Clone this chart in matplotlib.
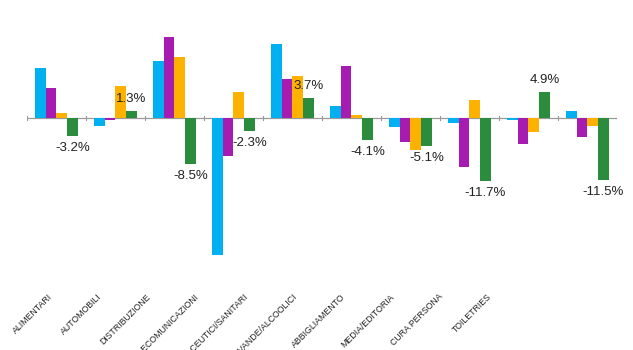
import matplotlib
matplotlib.use("Agg")
import matplotlib.pyplot as plt
import numpy as np

categories = ["ALIMENTARI", "AUTOMOBILI", "DISTRIBUZIONE", "TELECOMUNICAZIONI",
              "FARMACEUTICI/SANITARI", "BEVANDE/ALCOOLICI", "ABBIGLIAMENTO",
              "MEDIA/EDITORIA", "CURA PERSONA", "TOILETRIES"]
series_cyan = [9.4, -1.5, 10.7, -25.4, 13.8, 2.35, -1.7, -0.9, -0.4, 1.4]
series_purple = [5.7, -0.25, 15.1, -7.0, 7.3, 9.6, -4.4, -9.1, -4.7, -3.4]
series_orange = [0.9, 6.0, 11.4, 4.9, 7.8, 0.55, -5.9, 3.4, -2.5, -1.4]
series_green = [-3.2, 1.3, -8.5, -2.3, 3.7, -4.1, -5.1, -11.7, 4.9, -11.5]

colors = ["#00B0F0", "#A61CB0", "#FFB100", "#2A8C3C"]

W, H = 633, 350
fig = plt.figure(figsize=(W / 100, H / 100), dpi=100)
plt.rcParams['font.family'] = ['Liberation Sans', 'DejaVu Sans']

# axes placement in pixels
left_px, right_px = 26.8, 616.8
zero_px, scale = 118.3, 5.4
ymax, ymin = 17.0, -27.0
top_px = zero_px - ymax * scale
bot_px = zero_px - ymin * scale
ax = fig.add_axes([left_px / W, 1 - bot_px / H, (right_px - left_px) / W, (bot_px - top_px) / H])

x = np.arange(len(categories))
bw = 0.181
allser = [series_cyan, series_purple, series_orange, series_green]
for k, (vals, c) in enumerate(zip(allser, colors)):
    ax.bar(x + (k - 1.5) * bw, vals, width=bw, color=c, linewidth=0, zorder=2)

# labels on green bars
for xi, v in zip(x, series_green):
    off = 12 if v >= 0 else -12
    ax.annotate(f"{v:.1f}%", (xi + 1.5 * bw, v), xytext=(0, off * 0.72),
                textcoords="offset points", ha="center", va="center",
                fontsize=9.5, color="#222222", zorder=3)

ax.set_xlim(-0.5, len(categories) - 0.5)
ax.set_ylim(ymin, ymax)
ax.axhline(0, color="#9a9a9a", linewidth=0.9, zorder=1)
for b in np.arange(-0.5, len(categories) + 0.5, 1.0):
    ax.plot([b, b], [-0.35, 0.35], color="#9a9a9a", linewidth=0.8, zorder=1)
for s in ax.spines.values():
    s.set_visible(False)
ax.set_xticks([])
ax.set_yticks([])

# rotated category labels (compressed spacing as in the reference)
lx0, ldx, ly = 48.0, 48.8, 292.0
for i, cat in enumerate(categories):
    fig.text((lx0 + i * ldx) / W, 1 - ly / H, cat, rotation=45, rotation_mode="anchor",
             ha="right", va="top", fontsize=6.3, color="#222222")

fig.savefig("out.png", dpi=100)
